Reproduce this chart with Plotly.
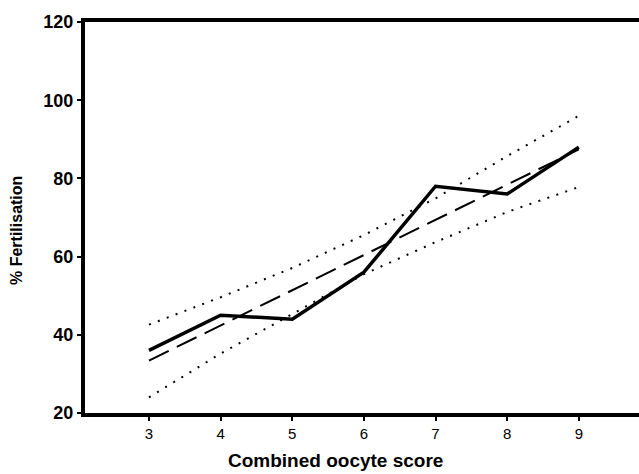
import plotly.graph_objects as go

# Data
scores = [3, 4, 5, 6, 7, 8, 9]
fertilisation = [36, 45, 44, 56, 78, 76, 88]
regression = [33.4, 42.4, 51.4, 60.4, 69.4, 78.4, 87.4]
upper_band = [42.6, 49.6, 57.1, 65.5, 74.9, 85.7, 96.0]
lower_band = [24.0, 35.2, 45.3, 55.5, 63.7, 71.4, 77.8]
y_ticks = [20, 40, 60, 80, 100, 120]
x_ticks = [3, 4, 5, 6, 7, 8, 9]

W, H = 639, 474
L, R, T, B = 85, 0, 22, 61
pw, ph = W - L - R, H - T - B

fig = go.Figure()
fig.add_trace(go.Scatter(x=scores, y=upper_band, mode="lines",
                         line=dict(color="black", width=2, dash="2px,7.5px"),
                         showlegend=False, hoverinfo="skip"))
fig.add_trace(go.Scatter(x=scores, y=lower_band, mode="lines",
                         line=dict(color="black", width=2, dash="2px,7.5px"),
                         showlegend=False, hoverinfo="skip"))
fig.add_trace(go.Scatter(x=scores, y=regression, mode="lines",
                         line=dict(color="black", width=2, dash="22px,9px"),
                         showlegend=False))
fig.add_trace(go.Scatter(x=scores, y=fertilisation, mode="lines",
                         line=dict(color="black", width=3.5),
                         showlegend=False))

fig.update_layout(
    width=W, height=H,
    margin=dict(l=L, r=R, t=T, b=B),
    paper_bgcolor="white", plot_bgcolor="white",
    font=dict(family="Arial, Liberation Sans, sans-serif", color="black"),
    annotations=[
        dict(text="<b>Combined oocyte score</b>", showarrow=False,
             xref="paper", yref="paper",
             x=(335 - L) / pw, y=(H - B - 460) / ph,
             xanchor="center", yanchor="middle", font=dict(size=19)),
        dict(text="<b>% Fertilisation</b>", showarrow=False, textangle=-90,
             xref="paper", yref="paper",
             x=(16 - L) / pw, y=(H - B - 231) / ph,
             xanchor="center", yanchor="middle", font=dict(size=16)),
    ],
)
fig.update_xaxes(
    range=[2.107, 9.84], tickvals=x_ticks, ticktext=[str(v) for v in x_ticks],
    showgrid=False, zeroline=False,
    showline=True, linecolor="black", linewidth=4, mirror=True,
    ticks="outside", ticklen=4, tickwidth=2, tickcolor="black",
    tickfont=dict(family="Liberation Sans Narrow, Arial Narrow, Arial, sans-serif", size=15),
)
fig.update_yaxes(
    range=[20, 120], tickvals=y_ticks, ticktext=["<b>%d</b>" % v for v in y_ticks],
    showgrid=False, zeroline=False,
    showline=True, linecolor="black", linewidth=4, mirror=False,
    ticks="outside", ticklen=4, tickwidth=2, tickcolor="black",
    tickfont=dict(size=18),
)

fig.write_html("out.html")
